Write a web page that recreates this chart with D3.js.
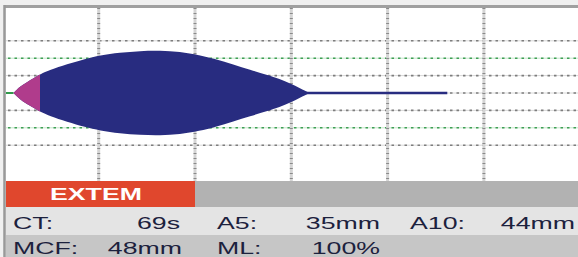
<!DOCTYPE html>
<html>
<head>
<meta charset="utf-8">
<script src="https://cdn.jsdelivr.net/npm/d3@7"></script>
<style>
  html, body { margin: 0; padding: 0; background: #f0f0f0; }
  svg { display: block; }
</style>
</head>
<body>
<div id="rotem"></div>
<script>
// Trace: time in minutes, total amplitude in mm
const traceTime = [1.15, 1.8, 2.9, 3.6, 3.9, 4.9, 6.7, 8.6, 10.1, 12.2, 14.3, 16.4, 18.4, 20.5, 22.1, 24.0, 25.7, 27.5, 28.8, 29.9, 30.9, 31.9];
const traceAmp  = [0, 7.5, 15, 19.5, 21.3, 26.4, 33, 39.1, 43.1, 46.5, 48.3, 48.8, 47.5, 43.5, 39.1, 32.5, 26.6, 20.8, 16.2, 11, 5.5, 0];
const ctSeconds = 69;
const cftEndTime = 3.9;   // min, where amplitude reaches 20 mm
const runEndTime = 46.2;  // min, end of the flat line

const timeTicks = [10, 20, 30, 40, 50];
const grayLevels = [-30, -10, 0, 10, 30];
const greenLevels = [-20, 20];

const testName = "EXTEM";
const row1Labels = ["CT:", "A5:", "A10:"];
const row1Values = ["69s", "35mm", "44mm"];
const row2Labels = ["MCF:", "ML:"];
const row2Values = ["48mm", "100%"];

const width = 578, height = 257;
const plot = {left: 6, top: 8, right: 578, bottom: 181};

const svg = d3.select("#rotem")
    .append("svg")
        .attr("width", width)
        .attr("height", height)
        .attr("viewBox", `0, 0, ${width}, ${height}`);

// Scales
const xScale = d3.scaleLinear().domain([0, 60]).range([2.4, 2.4 + 9.63 * 60]);
const yScale = d3.scaleLinear().domain([-50, 50]).range([180, 6]);

// plot background + clip
svg.append("rect")
    .attr("x", plot.left).attr("y", plot.top)
    .attr("width", plot.right - plot.left).attr("height", plot.bottom - plot.top)
    .attr("fill", "#fff");
svg.append("clipPath").attr("id", "plotClip")
    .append("rect")
        .attr("x", plot.left).attr("y", plot.top)
        .attr("width", plot.right - plot.left).attr("height", plot.bottom - plot.top);

const inner = svg.append("g").attr("clip-path", "url(#plotClip)");

// horizontal grid lines
const hLine = (levels, under, dots) => {
    levels.forEach(v => {
        inner.append("line")
            .attr("x1", plot.left).attr("x2", plot.right)
            .attr("y1", yScale(v)).attr("y2", yScale(v))
            .attr("stroke", under).attr("stroke-width", 1);
        inner.append("line")
            .attr("x1", plot.left + 2).attr("x2", plot.right)
            .attr("y1", yScale(v)).attr("y2", yScale(v))
            .attr("stroke", dots).attr("stroke-width", 1.6)
            .attr("stroke-dasharray", "2.5,4");
    });
};
hLine(grayLevels, "#d8d8d8", "#7d7d7d");
hLine(greenLevels, "#c6e6cb", "#3f9f55");

// vertical grid lines (ruler look)
timeTicks.forEach(t => {
    inner.append("line")
        .attr("x1", xScale(t)).attr("x2", xScale(t))
        .attr("y1", plot.top).attr("y2", plot.bottom)
        .attr("stroke", "#d4d4d4").attr("stroke-width", 3);
    inner.append("line")
        .attr("x1", xScale(t)).attr("x2", xScale(t))
        .attr("y1", plot.top).attr("y2", plot.bottom)
        .attr("stroke", "#8a8a8a").attr("stroke-width", 3)
        .attr("stroke-dasharray", "1,4");
});

// trace
const trace = traceTime.map((t, i) => ({t: t, a: traceAmp[i]}));
const area = d3.area()
    .x(d => xScale(d.t))
    .y0(d => yScale(-d.a / 2))
    .y1(d => yScale(d.a / 2))
    .curve(d3.curveBasis);

// flat line before CT (green) and after full lysis (blue)
inner.append("line")
    .attr("x1", xScale(0)).attr("x2", xScale(ctSeconds / 60))
    .attr("y1", yScale(0)).attr("y2", yScale(0))
    .attr("stroke", "#2f9a4a").attr("stroke-width", 2);
inner.append("line")
    .attr("x1", xScale(traceTime[traceTime.length - 1]) - 4).attr("x2", xScale(runEndTime))
    .attr("y1", yScale(0)).attr("y2", yScale(0))
    .attr("stroke", "#282c80").attr("stroke-width", 2.5);

inner.append("path")
    .datum(trace)
    .attr("d", area)
    .attr("fill", "#282c80");

svg.append("clipPath").attr("id", "cftClip")
    .append("rect")
        .attr("x", 0).attr("y", 0)
        .attr("width", xScale(cftEndTime)).attr("height", plot.bottom);
inner.append("path")
    .datum(trace)
    .attr("d", area)
    .attr("fill", "#b03c8c")
    .attr("clip-path", "url(#cftClip)");

// frame
svg.append("line")
    .attr("x1", plot.left - 1).attr("x2", plot.right)
    .attr("y1", 6.5).attr("y2", 6.5)
    .attr("stroke", "#a0a0a0").attr("stroke-width", 3);
// result panel
svg.append("rect").attr("x", plot.left).attr("y", 181).attr("width", 189).attr("height", 26).attr("fill", "#e0472d");
svg.append("rect").attr("x", 195).attr("y", 181).attr("width", width - 195).attr("height", 26).attr("fill", "#b2b2b2");
svg.append("rect").attr("x", plot.left).attr("y", 207).attr("width", width - plot.left).attr("height", 28).attr("fill", "#e4e4e4");
svg.append("rect").attr("x", plot.left).attr("y", 235).attr("width", width - plot.left).attr("height", 22).attr("fill", "#c6c6c6");

svg.append("line")
    .attr("x1", 4.5).attr("x2", 4.5)
    .attr("y1", 5).attr("y2", height)
    .attr("stroke", "#999").attr("stroke-width", 2.5);

// text is stretched wide in the original
const stretch = 1.67;
const addText = (x, y, txt, anchor, opts = {}) => {
    svg.append("text")
        .attr("transform", `translate(${x}, ${y}) scale(${stretch}, 1)`)
        .attr("text-anchor", anchor)
        .attr("font-family", "Liberation Sans, Arial, sans-serif")
        .attr("font-size", 16)
        .attr("font-weight", opts.bold ? "bold" : "normal")
        .attr("fill", opts.fill || "#1c213d")
        .text(txt);
};

addText(96, 200, testName, "middle", {bold: true, fill: "#fff"});

const labelX = [13, 217, 410];
const valueX = [180, 380, 575];
row1Labels.forEach((l, i) => addText(labelX[i], 229, l, "start"));
row1Values.forEach((v, i) => addText(valueX[i], 229, v, "end"));
row2Labels.forEach((l, i) => addText(labelX[i], 254, l, "start"));
row2Values.forEach((v, i) => addText(valueX[i] + (i === 0 ? 2 : 0), 254, v, "end"));
</script>
</body>
</html>
